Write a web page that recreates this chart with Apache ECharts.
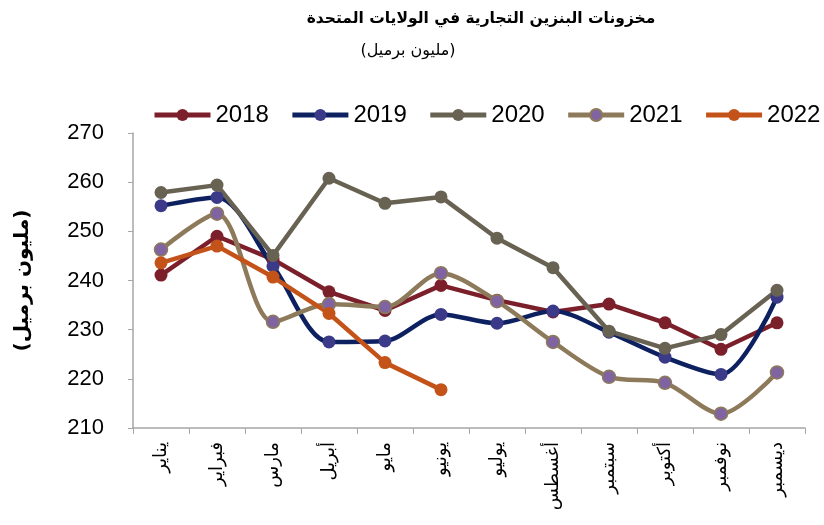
<!DOCTYPE html>
<html>
<head>
<meta charset="utf-8">
<script src="https://cdn.jsdelivr.net/npm/echarts@6.0.0/dist/echarts.min.js"></script>
<style>
  html,body{margin:0;padding:0;background:#fff;}
  #chart{width:824px;height:525px;}
</style>
</head>
<body>
<div id="chart"></div>
<script>
var months=['يناير','فبراير','مارس','أبريل','مايو','يونيو','يوليو','أغسطس','سبتمبر','أكتوبر','نوفمبر','ديسمبر'];
var s2018=[241.1,249.0,244.3,237.7,233.9,239.0,236.0,233.6,235.2,231.4,226.0,231.4];
var s2019=[255.2,256.9,242.9,227.5,227.7,233.1,231.3,233.8,229.5,224.4,220.9,236.6];
var s2020=[257.9,259.4,245.1,260.8,255.7,257.0,248.6,242.6,229.7,226.2,229.0,238.0];
var s2021=[246.3,253.6,231.6,235.2,234.6,241.5,235.8,227.5,220.4,219.2,212.9,221.3];
var s2022=[243.6,247.0,240.7,233.3,223.3,217.8];

var fontF='Arial, "Liberation Sans", "DejaVu Sans", sans-serif';
var arF='"DejaVu Sans", sans-serif';

function mkSeries(name,data,lineColor,dotColor,smooth,border){
    return {
        name:name,
        type:'line',
        data:data,
        smooth:smooth,
        symbol:'circle',
        symbolSize:13,
        lineStyle:{color:lineColor,width:4.5},
        itemStyle:{color:dotColor,borderColor:border||dotColor,borderWidth:border?1.5:0}
    };
}

var myChart=echarts.init(document.getElementById('chart'));
myChart.setOption({
    animation:false,
    backgroundColor:'#fff',
    textStyle:{fontFamily:fontF},
    graphic:[
        {type:'text',x:481,y:11,style:{text:'مخزونات البنزين التجارية في الولايات المتحدة',fontSize:15.5,fontWeight:'bold',fontFamily:arF,fill:'#000',align:'center'}},
        {type:'text',x:408,y:43,style:{text:'(مليون برميل)',fontSize:16,fontFamily:arF,fill:'#000',align:'center'}}
    ],
    legend:{
        left:147,top:98,width:720,
        itemWidth:56,itemHeight:15,itemGap:21,
        lineStyle:{width:5},
        textStyle:{fontSize:24,color:'#000',fontFamily:fontF},
        data:['2018','2019','2020','2021','2022']
    },
    grid:{left:133,right:19,top:133,bottom:97,containLabel:false},
    xAxis:{
        type:'category',
        data:months,
        boundaryGap:true,
        axisLine:{lineStyle:{color:'#a6a6a6',width:1.5}},
        axisTick:{show:true,length:6,lineStyle:{color:'#a6a6a6'}},
        axisLabel:{rotate:90,fontSize:18,color:'#000',margin:14,interval:0,fontFamily:arF},
        splitLine:{show:false}
    },
    yAxis:{
        type:'value',
        min:210,max:270,interval:10,
        name:'(مليون برميل)',
        nameLocation:'middle',
        nameGap:100,
        nameTextStyle:{fontSize:20,fontWeight:'bold',color:'#000',fontFamily:arF},
        axisLine:{show:true,lineStyle:{color:'#a6a6a6',width:1.5}},
        axisTick:{show:true,length:5,lineStyle:{color:'#a6a6a6'}},
        axisLabel:{fontSize:22,color:'#000',margin:29,fontFamily:fontF},
        splitLine:{show:false}
    },
    series:[
        mkSeries('2018',s2018,'#7B1F2B','#7B1F2B',false),
        mkSeries('2019',s2019,'#0D2160','#3A3A89',0.3),
        mkSeries('2020',s2020,'#686253','#686253',false),
        mkSeries('2021',s2021,'#8D7A5A','#8064A2',0.3,'#8D7A5A'),
        mkSeries('2022',s2022,'#C4531A','#C4531A',false)
    ]
});
</script>
</body>
</html>
